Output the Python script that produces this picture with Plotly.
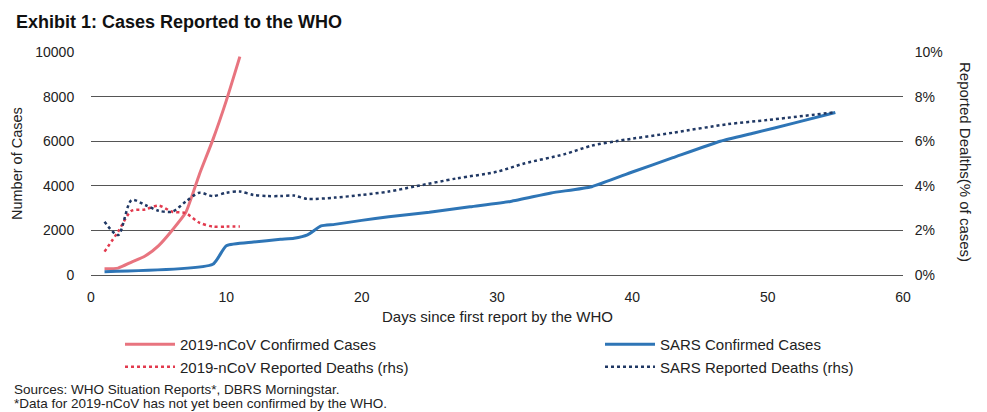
import plotly.graph_objects as go

# ---- data ----
ncov_days = [1, 2, 3, 4, 5, 6, 7, 8, 9, 10, 11]
ncov_cases = [280, 310, 580, 850, 1320, 2010, 2800, 4500, 6060, 7820, 9790]
ncov_death_pct = [1.05, 1.94, 2.88, 2.94, 3.11, 2.84, 2.77, 2.35, 2.17, 2.17, 2.17]

sars_case_days = [1, 9, 10, 12, 14, 15, 16, 17, 18, 20, 22, 25, 28, 31, 34, 37, 40, 43, 46.5, 49, 52, 55]
sars_cases = [150, 480, 1315, 1480, 1600, 1650, 1800, 2200, 2270, 2450, 2610, 2810, 3060, 3300, 3680, 3960, 4620, 5260, 6000, 6370, 6820, 7290]

sars_death_days = [1, 2, 3, 4, 5, 6, 7, 8, 9, 10, 11, 12, 13, 14, 15, 16, 18, 20, 22, 24, 27, 30, 32, 35, 37, 39, 43, 47, 50, 55]
sars_death_pct = [2.39, 1.79, 3.36, 3.14, 2.88, 2.84, 3.29, 3.69, 3.54, 3.69, 3.74, 3.59, 3.54, 3.54,
                  3.56, 3.41, 3.47, 3.59, 3.74, 3.98, 4.33, 4.63, 5.0, 5.42, 5.8, 6.02, 6.38, 6.76, 6.95, 7.3]

series_names = ["2019-nCoV Confirmed Cases", "SARS Confirmed Cases",
                "2019-nCoV Reported Deaths (rhs)", "SARS Reported Deaths (rhs)"]

FONT = "Liberation Sans, Arial, sans-serif"
TXT = "#222222"

# page body has an 8px default margin; the figure is sized so that it fills the window
OFF = 8
W, H = 987 - OFF, 412 - OFF
PL, PR, PT, PB = 91, 903, 52, 275          # plot area in window pixels
PW, PH = PR - PL, PB - PT


def px_x(x):
    return (x - PL) / PW


def px_y(y):
    return (PB - y) / PH


fig = go.Figure()
fig.add_trace(go.Scatter(x=ncov_days, y=ncov_cases, name=series_names[0], mode="lines", legend="legend",
                         line=dict(color="#E8747F", width=3, shape="spline", smoothing=0.5)))
fig.add_trace(go.Scatter(x=ncov_days, y=[v / 100 for v in ncov_death_pct], name=series_names[2],
                         mode="lines", yaxis="y2", legend="legend",
                         line=dict(color="#E23A4E", width=2.5, dash="dot", shape="spline", smoothing=0.8)))
fig.add_trace(go.Scatter(x=sars_case_days, y=sars_cases, name=series_names[1], mode="lines", legend="legend2",
                         line=dict(color="#2E75B6", width=3, shape="spline", smoothing=0.5)))
fig.add_trace(go.Scatter(x=sars_death_days, y=[v / 100 for v in sars_death_pct], name=series_names[3],
                         mode="lines", yaxis="y2", legend="legend2",
                         line=dict(color="#203864", width=2.5, dash="dot", shape="spline", smoothing=0.8)))

legend_common = dict(orientation="v", xanchor="left", yanchor="top", y=px_y(328),
                     font=dict(family=FONT, size=15, color=TXT), bgcolor="rgba(0,0,0,0)",
                     traceorder="normal", itemwidth=50, tracegroupgap=0)

fig.update_layout(
    width=W, height=H,
    margin=dict(l=PL - OFF, r=W - (PR - OFF), t=PT - OFF, b=H - (PB - OFF)),
    paper_bgcolor="white", plot_bgcolor="white",
    font=dict(family=FONT, size=14, color=TXT),
    title=dict(text="<b>Exhibit 1: Cases Reported to the WHO</b>", x=(16 - OFF) / W, xref="container",
               xanchor="left", y=1 - (22 - OFF) / H, yref="container", yanchor="middle",
               font=dict(family=FONT, size=18, color="#111111")),
    xaxis=dict(range=[0, 60], dtick=10, tick0=0, showgrid=False, zeroline=False, showline=False,
               ticks="outside", ticklen=9, tickcolor="rgba(0,0,0,0)",
               tickfont=dict(size=14, color=TXT)),
    yaxis=dict(range=[0, 10000], dtick=2000, tick0=0, tickformat="d", showgrid=True,
               gridcolor="#555555", gridwidth=1.4,
               zeroline=True, zerolinecolor="#555555", zerolinewidth=1.4, showline=False,
               ticks="outside", ticklen=13, tickcolor="rgba(0,0,0,0)",
               tickfont=dict(size=14, color=TXT)),
    yaxis2=dict(range=[0, 0.10], dtick=0.02, tick0=0, tickformat=".0%", overlaying="y", side="right",
                showgrid=False, zeroline=False, showline=False,
                ticks="outside", ticklen=8, tickcolor="rgba(0,0,0,0)",
                tickfont=dict(size=14, color=TXT)),
    legend=dict(x=px_x(120), **legend_common),
    legend2=dict(x=px_x(600), **legend_common),
    showlegend=True,
)

fig.add_annotation(text="Days since first report by the WHO", xref="paper", yref="paper",
                   x=0.5, y=px_y(316), xanchor="center", yanchor="middle", showarrow=False,
                   font=dict(size=15, color=TXT))
fig.add_annotation(text="Number of Cases", xref="paper", yref="paper", x=px_x(17), y=px_y(164),
                   textangle=-90, xanchor="center", yanchor="middle", showarrow=False,
                   font=dict(size=14.5, color=TXT))
fig.add_annotation(text="Reported Dealths(% of cases)", xref="paper", yref="paper", x=px_x(966), y=px_y(162),
                   textangle=90, xanchor="center", yanchor="middle", showarrow=False,
                   font=dict(size=15, color=TXT))
fig.add_annotation(text="Sources: WHO Situation Reports*, DBRS Morningstar.", xref="paper", yref="paper",
                   x=px_x(12), y=px_y(389), xanchor="left", yanchor="middle", showarrow=False,
                   font=dict(size=13.5, color=TXT))
fig.add_annotation(text="*Data for 2019-nCoV has not yet been confirmed by the WHO.", xref="paper", yref="paper",
                   x=px_x(12), y=px_y(403.5), xanchor="left", yanchor="middle", showarrow=False,
                   font=dict(size=13.5, color=TXT))

fig.write_html("out.html")
